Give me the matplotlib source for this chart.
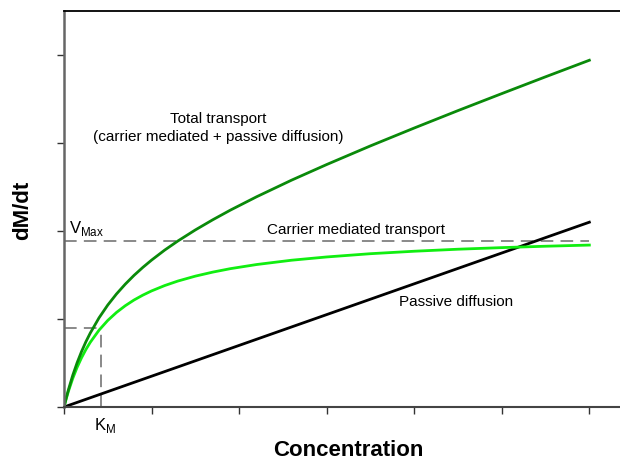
import matplotlib.pyplot as plt

plt.rcParams['font.family'] = ['Liberation Sans', 'DejaVu Sans']

# concentration values where the curves were read
conc = [0, 0.025, 0.05, 0.1, 0.15, 0.2, 0.25, 0.3, 0.4, 0.5, 0.6, 0.7, 0.8, 0.9, 1.0, 1.15,
        1.3, 1.5, 1.7, 1.9, 2.2, 2.6, 3.0, 3.5, 4.0, 4.5, 5.0, 5.5, 6.0]
carrier = [0, 0.092, 0.177, 0.325, 0.451, 0.559, 0.653, 0.735, 0.873, 0.984, 1.075, 1.151, 1.216,
           1.271, 1.319, 1.380, 1.431, 1.487, 1.533, 1.572, 1.619, 1.668, 1.705, 1.742, 1.770,
           1.793, 1.811, 1.827, 1.840]
total = [0, 0.101, 0.194, 0.360, 0.503, 0.629, 0.741, 0.840, 1.013, 1.159, 1.285, 1.396, 1.496,
         1.586, 1.669, 1.783, 1.886, 2.012, 2.128, 2.237, 2.389, 2.578, 2.755, 2.967, 3.170,
         3.368, 3.561, 3.752, 3.940]
passive_x = [0, 6.0]
passive_y = [0, 2.10]

vmax = 1.886
km = 0.42
half_v = 0.90

fig = plt.figure(figsize=(6.2, 4.6), dpi=100)
ax = fig.add_axes([0.1032, 0.113, 0.8968, 0.861])

dash = dict(color='#808080', lw=1.3, dashes=(7, 4))
ax.plot([0, 6.0], [vmax, vmax], **dash)
ax.plot([0, km], [half_v, half_v], **dash)
ax.plot([km, km], [0, half_v], **dash)

ax.plot(passive_x, passive_y, color='black', lw=2)
ax.plot(conc, carrier, color='#11ee11', lw=2)
ax.plot(conc, total, color='#0a8a0a', lw=2)

ax.set_xlim(0, 6.35)
ax.set_ylim(0, 4.5)
ax.set_xticks(range(7))
ax.set_yticks(range(5))
ax.set_xticklabels([])
ax.set_yticklabels([])
ax.tick_params(direction='out', length=5, width=1, color='#333333')
ax.spines['right'].set_visible(False)
ax.spines['top'].set_linewidth(1.3)
ax.spines['left'].set_color('#666666')
ax.spines['left'].set_linewidth(1.8)
ax.spines['bottom'].set_color('#444444')
ax.spines['bottom'].set_linewidth(1.5)

fs = 11
ax.text(1.76, 3.28, 'Total transport', ha='center', va='center', fontsize=fs)
ax.text(1.76, 3.08, '(carrier mediated + passive diffusion)', ha='center', va='center', fontsize=fs)
ax.text(3.33, 2.02, 'Carrier mediated transport', ha='center', va='center', fontsize=fs)
ax.text(4.48, 1.20, 'Passive diffusion', ha='center', va='center', fontsize=fs)
ax.text(0.06, 1.93, r'V$_{\mathregular{Max}}$', ha='left', va='bottom', fontsize=12)
ax.text(0.47, -0.2, r'K$_{\mathregular{M}}$', ha='center', va='center', fontsize=12)

ax.set_xlabel('Concentration', fontsize=16, fontweight='bold', labelpad=15)
ax.xaxis.set_label_coords(0.511, -0.08)
ax.set_ylabel('dM/dt', fontsize=16, fontweight='bold', labelpad=14)

fig.savefig('out.png')
